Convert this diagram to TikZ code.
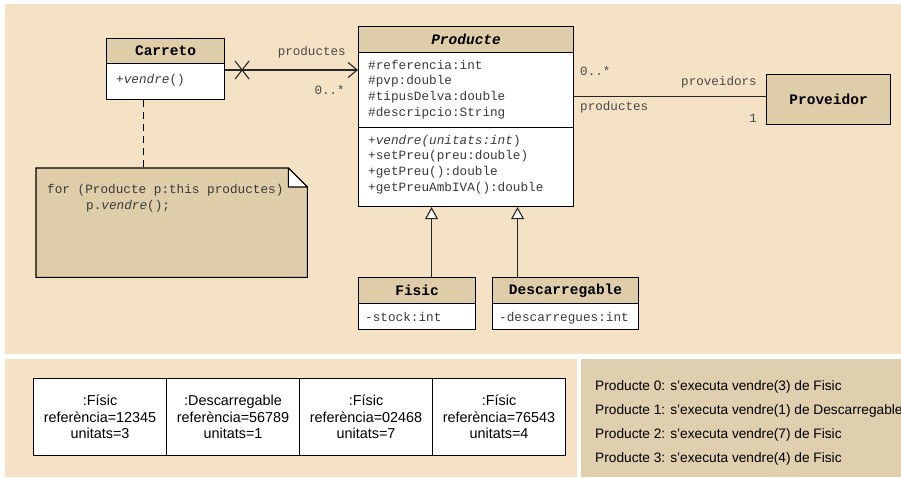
\documentclass[tikz,border=0pt]{standalone}
\usepackage{fontspec}
\setmainfont{Liberation Sans}
\newfontfamily\mono{Liberation Mono}
\usetikzlibrary{arrows.meta}
\definecolor{panel}{HTML}{F5E2C4}
\definecolor{panelB}{HTML}{DFCFAE}
\definecolor{hdr}{HTML}{DFCDAA}
\definecolor{ink}{HTML}{3A3A3A}
\definecolor{lbl}{HTML}{4A4A4A}
\begin{document}
\begin{tikzpicture}[x=1pt,y=-1pt,
  clshdr/.style={draw=black, line width=1.1pt, fill=hdr, inner sep=0pt, anchor=north west,
    font=\mono\bfseries\fontsize{14.5}{16}\selectfont},
  clsbody/.style={draw=black, line width=1.1pt, fill=white, inner sep=0pt, anchor=north west},
  member/.style={inner sep=0pt, anchor=base west, text=ink,
    font=\mono\fontsize{12.7}{15.67}\selectfont},
  rolelbl/.style={inner sep=0pt, text=lbl, font=\mono\fontsize{12.6}{15.67}\selectfont},
  assoc/.style={draw=black!85, line width=1.1pt},
  gen/.style={draw=black!85, line width=1.1pt, -{Triangle[open, length=12pt, width=13pt, fill=white]}},
  objcell/.style={draw=black, line width=1pt, fill=white, inner sep=0pt, anchor=north west,
    minimum width=133pt, minimum height=77pt, align=center,
    font=\fontsize{14.4}{16.5}\selectfont},
  outline/.style={inner sep=0pt, anchor=base west, font=\fontsize{13.7}{16}\selectfont}
]
\useasboundingbox (0,0) rectangle (901,477);
% panels
\fill[white] (0,0) rectangle (901,477);
\fill[panel] (5,4) rectangle (901,354);
\fill[panel] (5,359) rectangle (577,477);
\fill[panelB] (581,359) rectangle (901,477);

% Carreto
\node[clshdr, minimum width=118pt, minimum height=25pt] (carH) at (106,38) {Carreto};
\node[clsbody, minimum width=118pt, minimum height=36pt] (carB) at (106,63) {};
\node[member] (carM1) at (116,83) {+\textit{vendre}()};

% Producte
\node[clshdr, minimum width=215pt, minimum height=26pt] (prH) at (358,26) {\textit{Producte}};
\node[clsbody, minimum width=215pt, minimum height=75pt] (prAttr) at (358,52) {};
\node[clsbody, minimum width=215pt, minimum height=79pt] (prMeth) at (358,127) {};
\node[member] (pa1) at (368,69) {\#referencia:int};
\node[member] (pa2) at (368,84.7) {\#pvp:double};
\node[member] (pa3) at (368,100.3) {\#tipusDelva:double};
\node[member] (pa4) at (368,116) {\#descripcio:String};
\node[member] (pm1) at (368,144) {+\textit{vendre(unitats:int})};
\node[member] (pm2) at (368,159.7) {+setPreu(preu:double)};
\node[member] (pm3) at (368,175.3) {+getPreu():double};
\node[member] (pm4) at (368,191) {+getPreuAmbIVA():double};

% Proveidor
\node[clshdr, minimum width=124pt, minimum height=50pt] (prov) at (766,74) {Proveidor};

% Fisic and Descarregable
\node[clshdr, minimum width=117pt, minimum height=26pt] (fisH) at (358,277) {Fisic};
\node[clsbody, minimum width=117pt, minimum height=26pt] (fisB) at (358,303) {};
\node[member] (fisM) at (365,321) {-stock:int};
\node[clshdr, minimum width=146pt, minimum height=26pt] (desH) at (492,277) {Descarregable};
\node[clsbody, minimum width=146pt, minimum height=26pt] (desB) at (492,303) {};
\node[member] (desM) at (499,321) {-descarregues:int};

% navigable association Carreto -> Producte
\coordinate (a1) at ([yshift=-7pt]carB.north east);
\draw[assoc, -{Straight Barb[length=9pt, width=15pt]}] (a1) -- (a1 -| prAttr.west);
\draw[assoc] ([shift={(10,-9)}]a1) -- ([shift={(24,9)}]a1);
\draw[assoc] ([shift={(10,9)}]a1) -- ([shift={(24,-9)}]a1);
\node[rolelbl, anchor=base east] (r1) at (346,55) {productes};
\node[rolelbl, anchor=base east] (m1) at (345,94) {0..*};

% association Producte -- Proveidor
\coordinate (b1) at ([yshift=3pt]prov.west);
\draw[assoc] (b1) -- (b1 -| prAttr.east);
\node[rolelbl, anchor=base west] (m2) at (580,75) {0..*};
\node[rolelbl, anchor=base west] (r2) at (580,110) {productes};
\node[rolelbl, anchor=base east] (r3) at (757,85) {proveidors};
\node[rolelbl, anchor=base east] (m3) at (757,122) {1};

% generalizations
\coordinate (g1) at ([xshift=14.5pt]fisH.north);
\coordinate (g2) at ([xshift=-48pt]desH.north);
\draw[gen] (g1) -- (g1 |- prMeth.south);
\draw[gen] (g2) -- (g2 |- prMeth.south);

% note with folded corner
\node[inner sep=0pt, anchor=north west, minimum width=271pt, minimum height=109pt] (note) at (36,168) {};
\draw[line width=1.1pt, fill=hdr] (note.north west) -- ([xshift=-19pt]note.north east)
  -- ([yshift=-19pt]note.north east) -- (note.south east) -- (note.south west) -- cycle;
\draw[line width=1.1pt, fill=white, line join=round] ([xshift=-19pt]note.north east)
  -- ([xshift=-19pt,yshift=-19pt]note.north east) -- ([yshift=-19pt]note.north east) -- cycle;
\node[member] (n1) at (47,193) {for (Producte p:this productes)};
\node[member] (n2) at (86,209) {p.\textit{vendre}();};
\coordinate (d1) at ([xshift=-22pt]carB.south);
\draw[line width=1.1pt, dash pattern=on 7pt off 5pt] (d1) -- (d1 |- note.north);

% object instances
\node[objcell] (o1) at (33,378) {:Físic\\referència=12345\\unitats=3};
\node[objcell] (o2) at (166,378) {:Descarregable\\referència=56789\\unitats=1};
\node[objcell] (o3) at (299,378) {:Físic\\referència=02468\\unitats=7};
\node[objcell] (o4) at (432,378) {:Físic\\referència=76543\\unitats=4};

% program output
\node[outline] (t1) at (595,390) {Producte 0: s'executa vendre(3) de Fisic};
\node[outline] (t2) at (595,414) {Producte 1: s'executa vendre(1) de Descarregable};
\node[outline] (t3) at (595,438) {Producte 2: s'executa vendre(7) de Fisic};
\node[outline] (t4) at (595,462) {Producte 3: s'executa vendre(4) de Fisic};
\end{tikzpicture}
\end{document}
